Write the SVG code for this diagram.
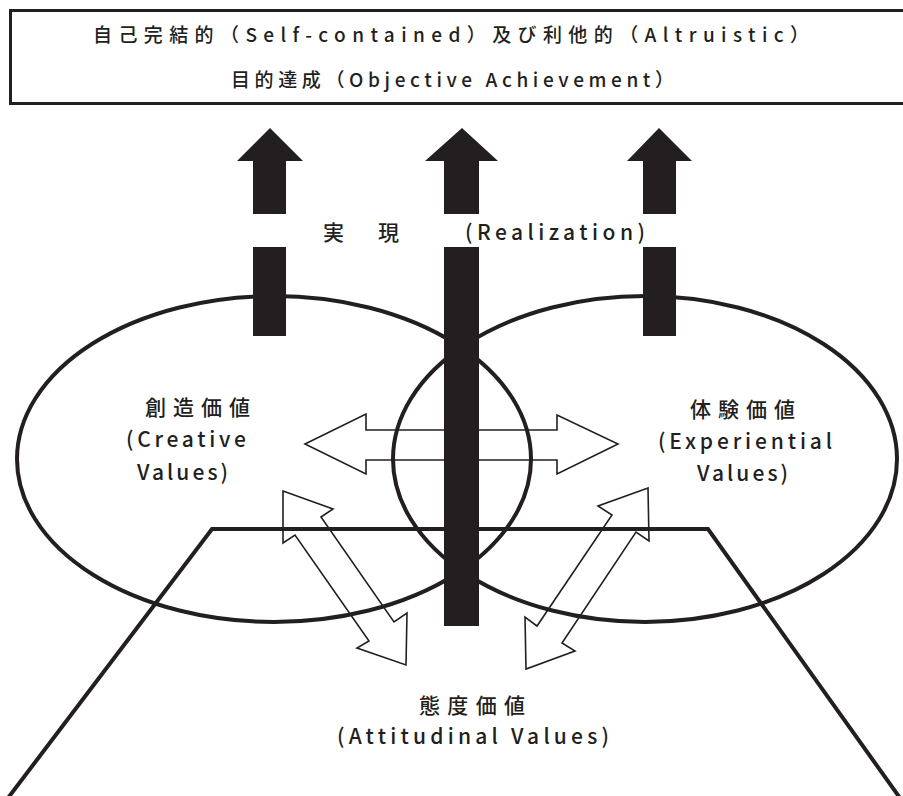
<svg xmlns="http://www.w3.org/2000/svg" width="903" height="796" viewBox="0 0 903 796">
<style>
  .t { font-family: "Noto Sans CJK JP", "Noto Sans", sans-serif; fill: #231f20; font-weight: 500; }
  .thick { fill: none; stroke: #231f20; stroke-width: 4; }
  .thin { fill: none; stroke: #231f20; stroke-width: 1.6; stroke-linejoin: miter; }
  .bar { fill: #231f20; }
</style>
<rect width="903" height="796" fill="#ffffff"/>

<g id="goal">
  <path d="M 906 10.5 L 10.5 10.5 L 10.5 103.5 L 906 103.5" fill="none" stroke="#231f20" stroke-width="3"/>
  <text class="t" x="93" y="42" font-size="19" textLength="716" lengthAdjust="spacing">自己完結的（Self-contained）及び利他的（Altruistic）</text>
  <text class="t" x="231" y="87" font-size="19" textLength="443" lengthAdjust="spacing">目的達成（Objective Achievement）</text>
</g>

<g id="connectors">
  <polygon id="arrow-h" class="thin" points="305,444 366,414 366,430 557,430 557,415 618,444 557,474 557,460 366,460 366,474"/>
  <polygon id="arrow-left-diag" class="thin" points="283,491 333,509 321,517 394,622 407,613 406,665 357,648 369,641 295,535 283,543"/>
  <polygon id="arrow-right-diag" class="thin" points="648,488 598,506 612,515 537,626 525,617 526,669 575,651 562,643 636,532 649,541"/>
</g>

<g id="creative">
  <ellipse class="thick" cx="274" cy="459" rx="257" ry="163"/>
  <text class="t" x="145" y="415" font-size="21" textLength="105" lengthAdjust="spacing">創造価値</text>
  <text class="t" x="126" y="447" font-size="21" textLength="120" lengthAdjust="spacing">(Creative</text>
  <text class="t" x="137" y="480" font-size="21" textLength="91" lengthAdjust="spacing">Values)</text>
</g>

<g id="experiential">
  <ellipse class="thick" cx="645" cy="459" rx="252" ry="163"/>
  <text class="t" x="690" y="417" font-size="21" textLength="105" lengthAdjust="spacing">体験価値</text>
  <text class="t" x="658" y="449" font-size="21" textLength="174" lengthAdjust="spacing">(Experiential</text>
  <text class="t" x="697" y="481" font-size="21" textLength="91" lengthAdjust="spacing">Values)</text>
</g>

<g id="attitudinal">
  <polyline class="thick" points="8,798 212,529 708,529 900,798"/>
  <text class="t" x="419" y="713" font-size="21" textLength="106" lengthAdjust="spacing">態度価値</text>
  <text class="t" x="337" y="744" font-size="21" textLength="272" lengthAdjust="spacing">(Attitudinal Values)</text>
</g>

<g id="realization">
  <polygon class="bar" points="270,128 303,161 286,161 286,214 253,214 253,161 237,161"/>
  <rect class="bar" x="253" y="247" width="33" height="89"/>
  <polygon class="bar" points="462,128 498,161 479,161 479,214 444,214 444,161 425,161"/>
  <rect class="bar" x="444" y="247" width="35" height="379"/>
  <polygon class="bar" points="659,128 692,161 676,161 676,214 643,214 643,161 627,161"/>
  <rect class="bar" x="643" y="247" width="33" height="89"/>
  <text class="t" font-size="21" y="240"><tspan x="323">実</tspan><tspan x="378">現</tspan><tspan x="465" textLength="180" lengthAdjust="spacing">(Realization)</tspan></text>
</g>
</svg>
